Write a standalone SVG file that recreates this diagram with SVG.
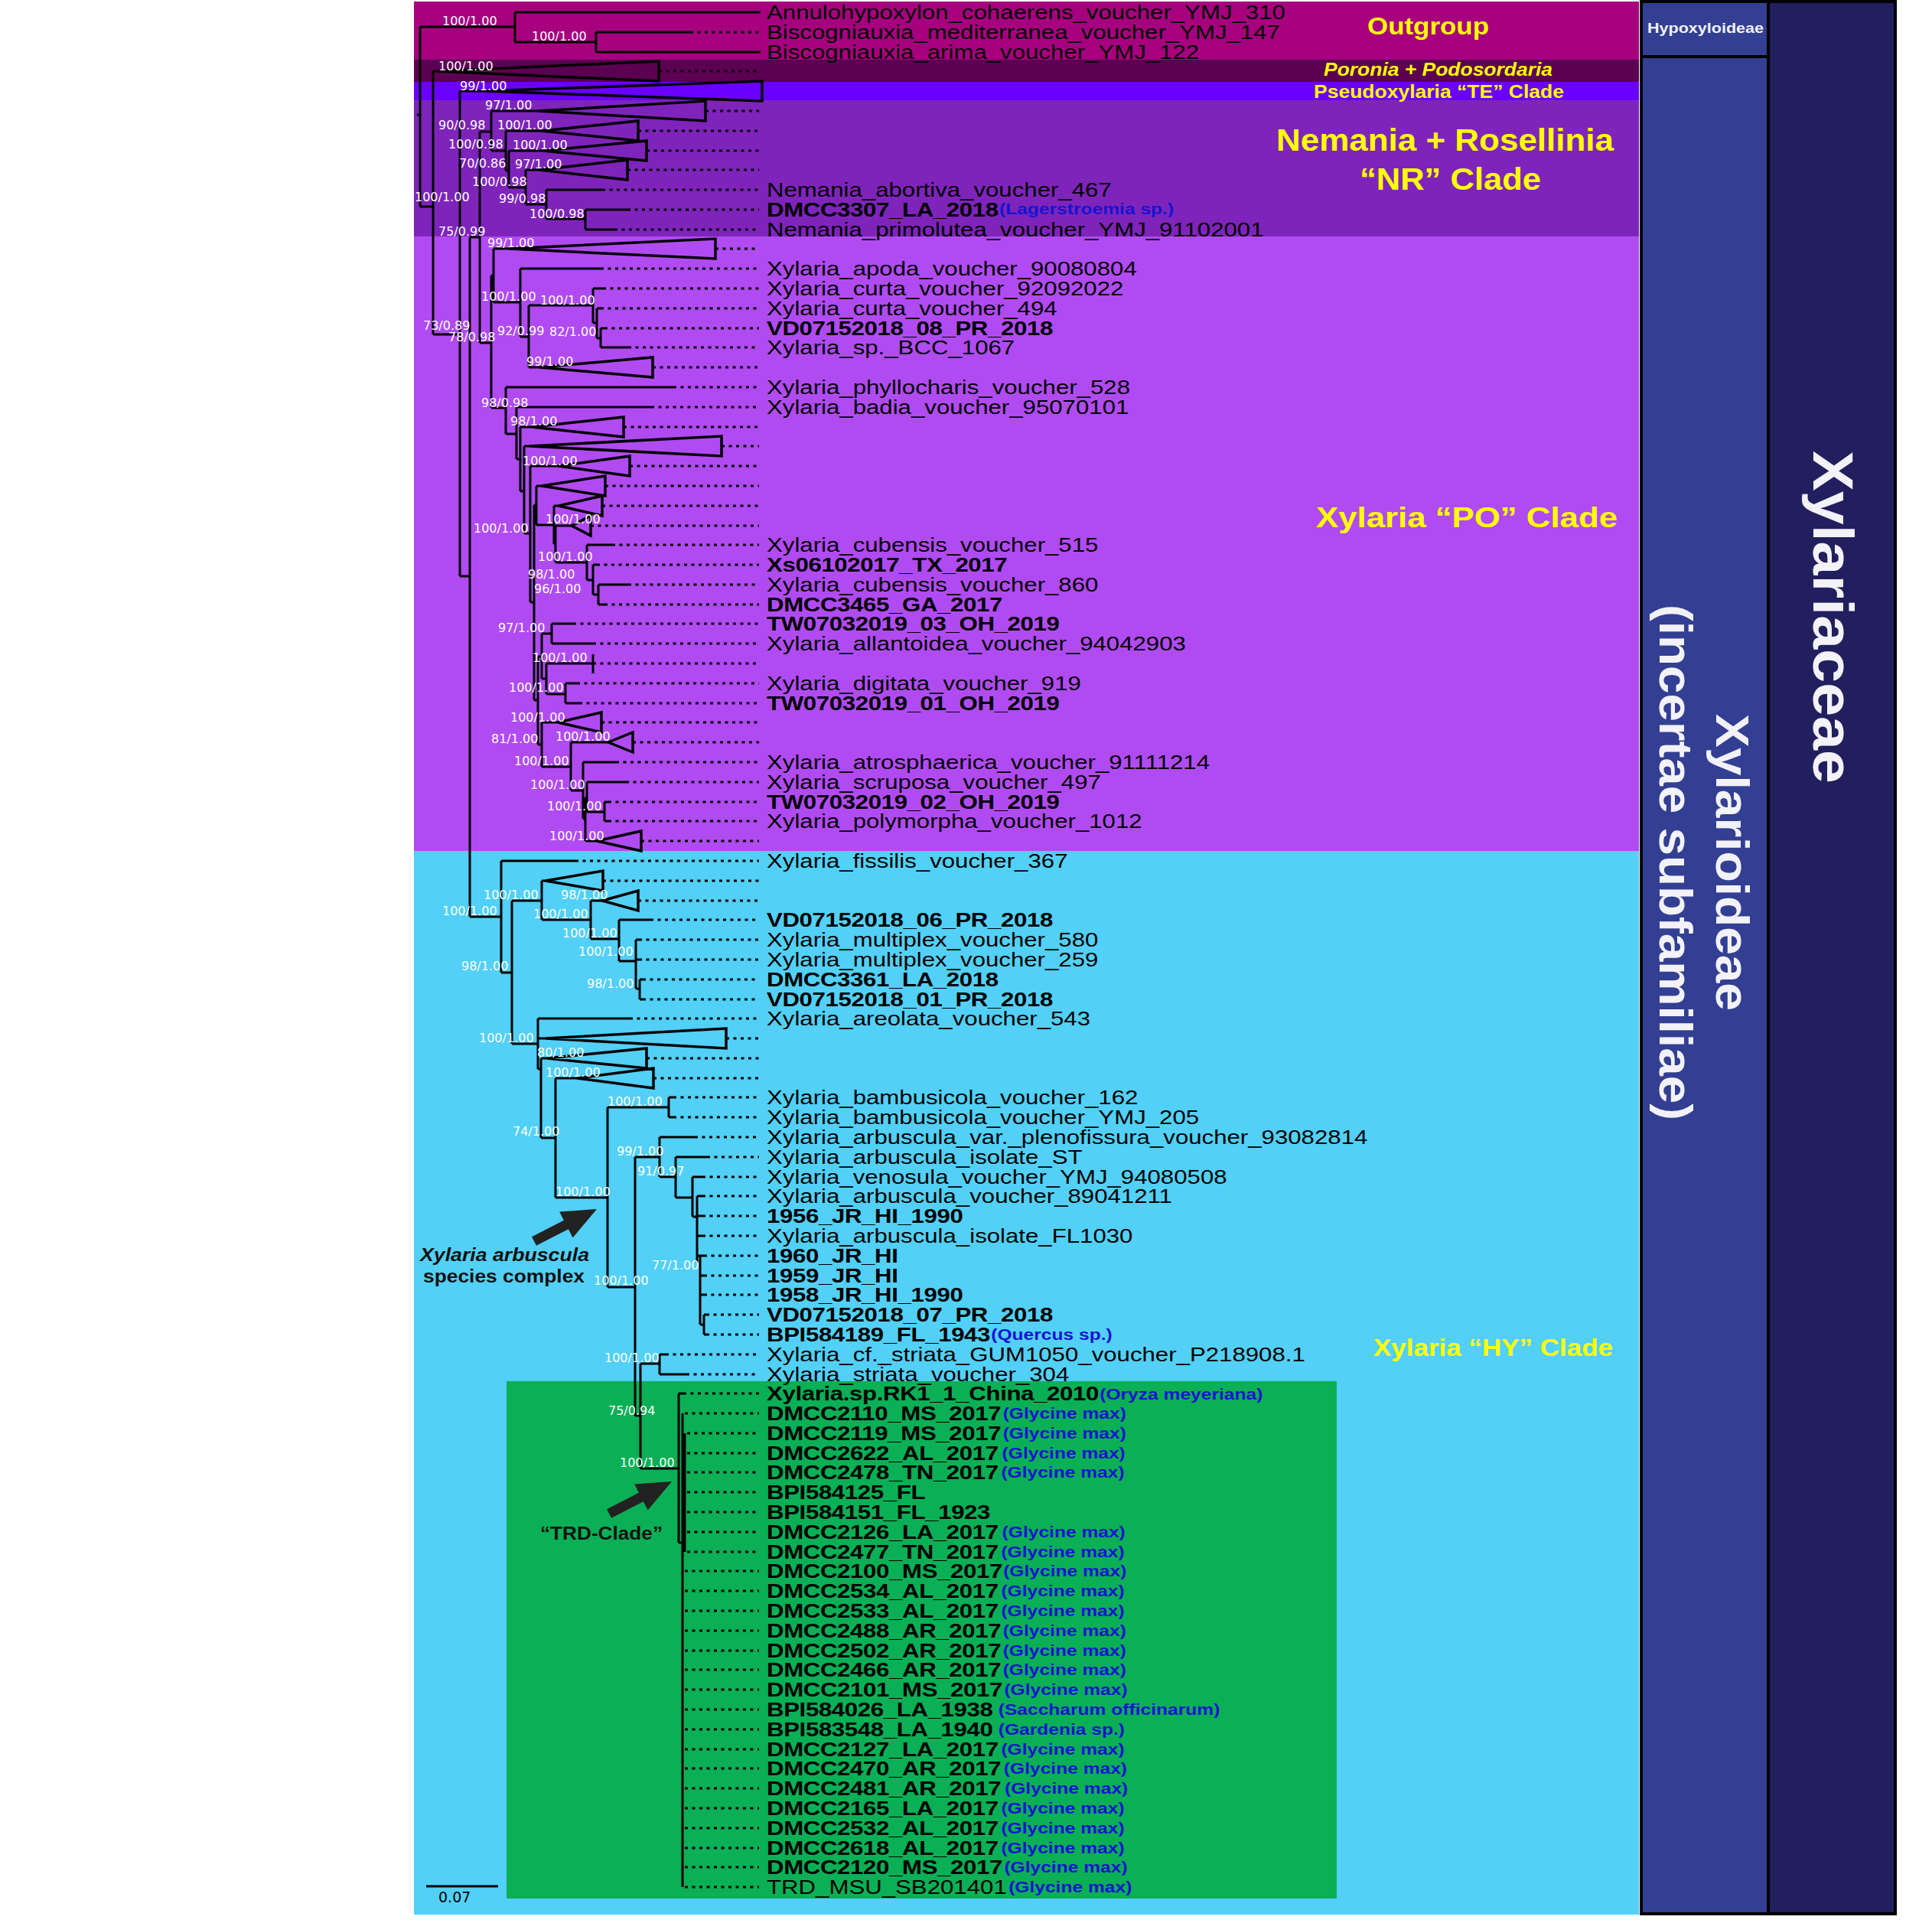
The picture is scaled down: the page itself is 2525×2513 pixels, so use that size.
<svg xmlns="http://www.w3.org/2000/svg" width="2525" height="2513" viewBox="0 0 2525 2513">
<style>
.br{fill:none;stroke:#000;stroke-width:3}
.tri{fill:none;stroke:#000;stroke-width:3.5;stroke-linejoin:miter}
.dot{fill:none;stroke:#000;stroke-width:3;stroke-dasharray:4 5.5}
.sup{font-family:"DejaVu Sans",sans-serif;font-size:16px;fill:#fff}
.tip{font-family:"Liberation Sans",Arial,sans-serif;font-size:26px;fill:#000}
.b{font-weight:bold;letter-spacing:-0.3px}
.host{font-weight:bold;fill:#1414D2;font-size:20.5px;letter-spacing:0}
.clade{font-family:"Liberation Sans",Arial,sans-serif;font-weight:bold;fill:#FFFF00}
.panel{font-family:"Liberation Sans",Arial,sans-serif;font-weight:bold;fill:#F2F2F8}
.ann{font-family:"Liberation Sans",Arial,sans-serif;font-weight:bold;font-size:23px;fill:#111}
</style>
<defs>
<path id="arrow" d="M695 1616.2L736.9 1594.7L731.2 1583.6L780 1580L748.6 1617.4L742.9 1606.3L701 1627.8Z" fill="#222"/>
</defs>
<rect width="2525" height="2513" fill="#fff"/>
<g id="bands">
<rect x="541" y="2" width="1601" height="76" fill="#A6007F"/>
<rect x="541" y="78" width="1601" height="29" fill="#5C0052"/>
<rect x="541" y="107" width="1601" height="24" fill="#6A00FF"/>
<rect x="541" y="131" width="1601" height="178" fill="#7E24BA"/>
<rect x="541" y="309" width="1601" height="803" fill="#B04BF2"/>
<rect x="541" y="1112" width="1601" height="1390" fill="#52D0F7"/>
<rect x="662" y="1805" width="1085" height="676" fill="#0BAF55"/>
</g>
<g id="panels">
<g id="hypoxyloideae"><rect x="2145" y="2" width="166" height="72" fill="#333F93" stroke="#000" stroke-width="4"/>
<text class="panel" x="2153" y="43" font-size="19" textLength="152" lengthAdjust="spacingAndGlyphs">Hypoxyloideae</text></g>
<g id="xylarioideae"><rect x="2145" y="74" width="166" height="2427" fill="#333F93" stroke="#000" stroke-width="4"/>
<text class="panel" transform="translate(2243 933) rotate(90)" font-size="62" textLength="388" lengthAdjust="spacingAndGlyphs">Xylarioideae</text>
<text class="panel" transform="translate(2169 790) rotate(90)" font-size="62" textLength="674" lengthAdjust="spacingAndGlyphs">(incertae subfamiliae)</text></g>
<g id="xylariaceae"><rect x="2311" y="2" width="166" height="2499" fill="#221F5E" stroke="#000" stroke-width="4"/>
<text class="panel" transform="translate(2370 589) rotate(90)" font-size="74" textLength="435" lengthAdjust="spacingAndGlyphs">Xylariaceae</text></g>
</g>
<g id="connectors">
<path class="br" d="M545 150H549M549 35V270M549 35H673M673 16V55M673 16H994M673 55H779M779 42V68M779 42H902M779 68H994
M549 270H566M566 93V437M566 93H571M566 437H601M601 119V753M601 119H635M601 753H614M614 310V1198M614 310H627M627 172V448
M627 172H642M642 145V197M642 145H703M642 197H661M661 171V223M661 171H708M661 223H665M665 197V245M665 197H710M665 245H687M687 222V267M687 222H705M687 267H714M714 248V286M714 248H787M714 286H765M765 274V300M765 274H820M765 300H803
M627 448H642M642 360V533M642 360H645M645 325V395M645 325H665M645 395H680M680 351V440M680 351H785M680 440H691M691 399V480M691 399H775M775 377V422M775 377H788M775 422H780M780 403V442M780 403H785M780 442H785M785 429V454M785 429H790M785 454H821M691 480H705
M642 533H661M661 506V567M661 506H880M661 567H675M675 532V600M675 532H851M675 600H680M680 558V642M680 558H695M680 642H685M685 583V697M685 583H692M685 697H693M693 609V787M693 609H730M693 787H698M698 660V915M698 660H701M701 635V686M701 635H708M701 686H724M724 661V711M724 661H730M724 711H726M726 687V735M726 687H747M726 735H767M767 712V758M767 712H800M767 758H775M775 738V777M775 738H780M775 777H782M782 764V790M782 764H821M782 790H790
M698 915H703M703 858V973M703 858H708M708 828V887M708 828H721M721 815V841M721 815H749M721 841H775M708 887H714M714 867V907M714 867H775M775 855V880M714 907H739M739 893V919M739 893H754M739 919H757M703 973H708M708 944V1002M708 944H729M708 1002H746M746 970V1033M746 970H795M746 1033H762M762 996V1070M762 996H805M762 1070H765M765 1042V1099M765 1042H767M767 1022V1061M767 1022H818M767 1061H790M790 1048V1073M790 1048H795M790 1073H795M765 1099H780
M614 1198H655M655 1125V1271M655 1125H752M655 1271H669M669 1177V1364M669 1177H708M708 1151V1202M708 1151H713M708 1202H772M772 1177V1227M772 1177H787M772 1227H809M809 1202V1256M809 1202H850M809 1256H831M831 1228V1292M831 1228H835M831 1254H835M831 1292H836M836 1280V1306M836 1280H840M836 1306H840
M669 1364H703M703 1331V1397M703 1331H823M703 1357H713M703 1397H707M707 1383V1487M707 1383H715M707 1487H726M726 1409V1565M726 1409H754M726 1565H794M794 1447V1682M794 1447H874M874 1434V1460M874 1434H880M874 1460H880M794 1682H830M830 1512V1850M830 1512H862M862 1486V1538M862 1486H908M862 1538H883M883 1512V1565M883 1512H924M883 1565H905M905 1538V1590M905 1538H918M905 1590H911M911 1563V1650M911 1563H918M911 1589H918M911 1615H918M911 1641H920M915 1641V1731M915 1667H920M915 1692H920M915 1731H920M920 1718V1744M920 1718H923M920 1744H923
M830 1850H837M837 1782V1919M837 1782H862M862 1770V1796M862 1770H870M862 1796H897M837 1919H887M887 1821V2016M887 1821H893M887 2016H892M892 1847V2466M892 1960H895M895 1873V2028"/>
<path class="tri" d="M571 93L861 80L861 106ZM635 119L996 106L996 132ZM703 145L922 132L922 158ZM708 171L834 158L834 184ZM710 197L845 184L845 210ZM705 222L820 209L820 235ZM665 325L935 312L935 338ZM705 480L853 467L853 493ZM695 558L815 545L815 571ZM692 583L943 570L943 596ZM730 609L823 596L823 622ZM708 635L791 622L791 648ZM730 661L787 648L787 674ZM747 687L772 674L772 700ZM729 944L786 931L786 957ZM795 970L827 957L827 983ZM780 1099L838 1086L838 1112ZM713 1151L788 1138L788 1164ZM787 1177L834 1164L834 1190ZM713 1357L949 1344L949 1370ZM715 1383L845 1370L845 1396ZM754 1409L854 1396L854 1422Z"/>
<path class="dot" d="M902 42H992M861 93H992M922 145H992M834 171H992M845 197H992M820 222H992M787 248H992M820 274H992M803 300H992M935 325H992M785 351H992M788 377H992M785 403H992M790 429H992M821 454H992M853 480H992M880 506H992M851 532H992M815 558H992M943 583H992M823 609H992M791 635H992M787 661H992M772 687H992M800 712H992M780 738H992M821 764H992M790 790H992M749 815H992M775 841H992M775 867H992M754 893H992M757 919H992M786 944H992M827 970H992M805 996H992M818 1022H992M795 1048H992M795 1073H992M838 1099H992M752 1125H992M788 1151H992M834 1177H992M850 1202H992M835 1228H992M835 1254H992M840 1280H992M840 1306H992M823 1331H992M949 1357H992M845 1383H992M854 1409H992M880 1434H992M880 1460H992M908 1486H992M924 1512H992M918 1538H992M918 1563H992M918 1589H992M918 1615H992M920 1641H992M920 1667H992M920 1692H992M923 1718H992M923 1744H992M870 1770H992M897 1796H992M893 1821H992M895 1847H992M898 1873H992M898 1899H992M898 1924H992M898 1950H992M898 1976H992M898 2002H992M898 2028H992M895 2053H992M895 2079H992M895 2105H992M895 2131H992M895 2157H992M895 2182H992M895 2208H992M895 2234H992M895 2260H992M895 2286H992M895 2311H992M895 2337H992M895 2363H992M895 2389H992M895 2415H992M895 2440H992M895 2466H992"/>
<path class="br" stroke-width="3.5" d="M557 2465H651"/>
</g>
<g id="support" class="sup">
<text x="578" y="33">100/1.00</text><text x="695" y="53">100/1.00</text><text x="542" y="263">100/1.00</text><text x="573" y="92">100/1.00</text>
<text x="553" y="431">73/0.89</text><text x="601" y="118">99/1.00</text><text x="573" y="308">75/0.99</text><text x="573" y="169">90/0.98</text>
<text x="634" y="143">97/1.00</text><text x="586" y="194">100/0.98</text><text x="650" y="169">100/1.00</text><text x="600" y="219">70/0.86</text>
<text x="670" y="195">100/1.00</text><text x="617" y="243">100/0.98</text><text x="673" y="220">97/1.00</text><text x="652" y="265">99/0.98</text>
<text x="692" y="285">100/0.98</text><text x="586" y="446">78/0.98</text><text x="637" y="323">99/1.00</text><text x="629" y="393">100/1.00</text>
<text x="650" y="438">92/0.99</text><text x="706" y="398">100/1.00</text><text x="718" y="439">82/1.00</text><text x="688" y="478">99/1.00</text>
<text x="629" y="532">98/0.98</text><text x="667" y="556">98/1.00</text><text x="619" y="696">100/1.00</text><text x="683" y="608">100/1.00</text>
<text x="713" y="684">100/1.00</text><text x="703" y="733">100/1.00</text><text x="690" y="756">98/1.00</text><text x="698" y="775">96/1.00</text>
<text x="651" y="826">97/1.00</text><text x="696" y="865">100/1.00</text><text x="665" y="904">100/1.00</text><text x="642" y="971">81/1.00</text>
<text x="667" y="943">100/1.00</text><text x="672" y="1000">100/1.00</text><text x="726" y="968">100/1.00</text><text x="693" y="1031">100/1.00</text>
<text x="715" y="1059">100/1.00</text><text x="718" y="1098">100/1.00</text><text x="578" y="1196">100/1.00</text><text x="603" y="1268">98/1.00</text>
<text x="632" y="1175">100/1.00</text><text x="697" y="1200">100/1.00</text><text x="733" y="1175">98/1.00</text><text x="735" y="1225">100/1.00</text>
<text x="756" y="1249">100/1.00</text><text x="767" y="1291">98/1.00</text><text x="626" y="1362">100/1.00</text><text x="702" y="1381">80/1.00</text>
<text x="670" y="1484">74/1.00</text><text x="713" y="1407">100/1.00</text><text x="726" y="1563">100/1.00</text><text x="794" y="1445">100/1.00</text>
<text x="776" y="1679">100/1.00</text><text x="806" y="1510">99/1.00</text><text x="833" y="1536">91/0.97</text><text x="852" y="1659">77/1.00</text>
<text x="795" y="1849">75/0.94</text><text x="790" y="1780">100/1.00</text><text x="810" y="1917">100/1.00</text>
</g>
<g id="tips" class="tip" transform="translate(1002 1) scale(1.2 1)">
<text y="24">Annulohypoxylon_cohaerens_voucher_YMJ_310</text>
<text y="50">Biscogniauxia_mediterranea_voucher_YMJ_147</text>
<text y="76">Biscogniauxia_arima_voucher_YMJ_122</text>
<text y="256">Nemania_abortiva_voucher_467</text>
<text y="282" class="b">DMCC3307_LA_2018<tspan class="host" dx="1" dy="-3">(Lagerstroemia sp.)</tspan></text>
<text y="308">Nemania_primolutea_voucher_YMJ_91102001</text>
<text y="359">Xylaria_apoda_voucher_90080804</text>
<text y="385">Xylaria_curta_voucher_92092022</text>
<text y="411">Xylaria_curta_voucher_494</text>
<text y="437" class="b">VD07152018_08_PR_2018</text>
<text y="462">Xylaria_sp._BCC_1067</text>
<text y="514">Xylaria_phyllocharis_voucher_528</text>
<text y="540">Xylaria_badia_voucher_95070101</text>
<text y="720">Xylaria_cubensis_voucher_515</text>
<text y="746" class="b">Xs06102017_TX_2017</text>
<text y="772">Xylaria_cubensis_voucher_860</text>
<text y="798" class="b">DMCC3465_GA_2017</text>
<text y="823" class="b">TW07032019_03_OH_2019</text>
<text y="849">Xylaria_allantoidea_voucher_94042903</text>
<text y="901">Xylaria_digitata_voucher_919</text>
<text y="927" class="b">TW07032019_01_OH_2019</text>
<text y="1004">Xylaria_atrosphaerica_voucher_91111214</text>
<text y="1030">Xylaria_scruposa_voucher_497</text>
<text y="1056" class="b">TW07032019_02_OH_2019</text>
<text y="1081">Xylaria_polymorpha_voucher_1012</text>
<text y="1133">Xylaria_fissilis_voucher_367</text>
<text y="1210" class="b">VD07152018_06_PR_2018</text>
<text y="1236">Xylaria_multiplex_voucher_580</text>
<text y="1262">Xylaria_multiplex_voucher_259</text>
<text y="1288" class="b">DMCC3361_LA_2018</text>
<text y="1314" class="b">VD07152018_01_PR_2018</text>
<text y="1339">Xylaria_areolata_voucher_543</text>
<text y="1442">Xylaria_bambusicola_voucher_162</text>
<text y="1468">Xylaria_bambusicola_voucher_YMJ_205</text>
<text y="1494">Xylaria_arbuscula_var._plenofissura_voucher_93082814</text>
<text y="1520">Xylaria_arbuscula_isolate_ST</text>
<text y="1546">Xylaria_venosula_voucher_YMJ_94080508</text>
<text y="1571">Xylaria_arbuscula_voucher_89041211</text>
<text y="1597" class="b">1956_JR_HI_1990</text>
<text y="1623">Xylaria_arbuscula_isolate_FL1030</text>
<text y="1649" class="b">1960_JR_HI</text>
<text y="1675" class="b">1959_JR_HI</text>
<text y="1700" class="b">1958_JR_HI_1990</text>
<text y="1726" class="b">VD07152018_07_PR_2018</text>
<text y="1752" class="b">BPI584189_FL_1943<tspan class="host" dx="1" dy="-2">(Quercus sp.)</tspan></text>
<text y="1778">Xylaria_cf._striata_GUM1050_voucher_P218908.1</text>
<text y="1804">Xylaria_striata_voucher_304</text>
<text y="1829" class="b">Xylaria.sp.RK1_1_China_2010<tspan class="host" dx="1" dy="-1">(Oryza meyeriana)</tspan></text>
<text y="1855" class="b">DMCC2110_MS_2017<tspan class="host" dx="2" dy="-2">(Glycine max)</tspan></text>
<text y="1881" class="b">DMCC2119_MS_2017<tspan class="host" dx="2" dy="-2">(Glycine max)</tspan></text>
<text y="1907" class="b">DMCC2622_AL_2017<tspan class="host" dx="4" dy="-2">(Glycine max)</tspan></text>
<text y="1932" class="b">DMCC2478_TN_2017<tspan class="host" dx="3" dy="-2">(Glycine max)</tspan></text>
<text y="1958" class="b">BPI584125_FL</text>
<text y="1984" class="b">BPI584151_FL_1923</text>
<text y="2010" class="b">DMCC2126_LA_2017<tspan class="host" dx="4" dy="-2">(Glycine max)</tspan></text>
<text y="2036" class="b">DMCC2477_TN_2017<tspan class="host" dx="3" dy="-2">(Glycine max)</tspan></text>
<text y="2061" class="b">DMCC2100_MS_2017<tspan class="host" dx="1" dy="-2">(Glycine max)</tspan></text>
<text y="2087" class="b">DMCC2534_AL_2017<tspan class="host" dx="3" dy="-2">(Glycine max)</tspan></text>
<text y="2113" class="b">DMCC2533_AL_2017<tspan class="host" dx="3" dy="-2">(Glycine max)</tspan></text>
<text y="2139" class="b">DMCC2488_AR_2017<tspan class="host" dx="2" dy="-2">(Glycine max)</tspan></text>
<text y="2165" class="b">DMCC2502_AR_2017<tspan class="host" dx="2" dy="-2">(Glycine max)</tspan></text>
<text y="2190" class="b">DMCC2466_AR_2017<tspan class="host" dx="2" dy="-2">(Glycine max)</tspan></text>
<text y="2216" class="b">DMCC2101_MS_2017<tspan class="host" dx="2" dy="-2">(Glycine max)</tspan></text>
<text y="2242" class="b">BPI584026_LA_1938<tspan class="host" dx="6" dy="-2">(Saccharum officinarum)</tspan></text>
<text y="2268" class="b">BPI583548_LA_1940<tspan class="host" dx="6" dy="-2">(Gardenia sp.)</tspan></text>
<text y="2294" class="b">DMCC2127_LA_2017<tspan class="host" dx="3" dy="-2">(Glycine max)</tspan></text>
<text y="2319" class="b">DMCC2470_AR_2017<tspan class="host" dx="3" dy="-2">(Glycine max)</tspan></text>
<text y="2345" class="b">DMCC2481_AR_2017<tspan class="host" dx="4" dy="-2">(Glycine max)</tspan></text>
<text y="2371" class="b">DMCC2165_LA_2017<tspan class="host" dx="3" dy="-2">(Glycine max)</tspan></text>
<text y="2397" class="b">DMCC2532_AL_2017<tspan class="host" dx="3" dy="-2">(Glycine max)</tspan></text>
<text y="2423" class="b">DMCC2618_AL_2017<tspan class="host" dx="3" dy="-2">(Glycine max)</tspan></text>
<text y="2448" class="b">DMCC2120_MS_2017<tspan class="host" dx="2" dy="-2">(Glycine max)</tspan></text>
<text y="2474">TRD_MSU_SB201401<tspan class="host" dx="2" dy="-2">(Glycine max)</tspan></text>
</g>
<g id="clades" class="clade">
<text id="outgroup" x="1787" y="45" font-size="31" textLength="159" lengthAdjust="spacingAndGlyphs">Outgroup</text>
<text id="poronia" x="1730" y="99" font-size="23" font-style="italic" textLength="299" lengthAdjust="spacingAndGlyphs">Poronia + Podosordaria</text>
<text id="pseudoxylaria" x="1717" y="128" font-size="24" textLength="327" lengthAdjust="spacingAndGlyphs">Pseudoxylaria “TE” Clade</text>
<g id="nr"><text x="1668" y="197" font-size="40" textLength="441" lengthAdjust="spacingAndGlyphs">Nemania + Rosellinia</text>
<text x="1777" y="248" font-size="40" textLength="237" lengthAdjust="spacingAndGlyphs">“NR” Clade</text></g>
<text id="po" x="1720" y="689" font-size="36" textLength="394" lengthAdjust="spacingAndGlyphs">Xylaria “PO” Clade</text>
<text id="hy" x="1795" y="1772" font-size="32" textLength="313" lengthAdjust="spacingAndGlyphs">Xylaria “HY” Clade</text>
</g>
<g id="annotations">
<use href="#arrow"/>
<use href="#arrow" transform="translate(98 356)"/>
<text class="ann" x="549" y="1648" font-style="italic" textLength="221" lengthAdjust="spacingAndGlyphs">Xylaria arbuscula</text>
<text class="ann" x="553" y="1676" textLength="211" lengthAdjust="spacingAndGlyphs">species complex</text>
<text class="ann" x="706" y="2012" textLength="160" lengthAdjust="spacingAndGlyphs">“TRD-Clade”</text>
<text x="573" y="2486" font-family="DejaVu Sans, sans-serif" font-size="19" fill="#000">0.07</text>
</g>
</svg>
